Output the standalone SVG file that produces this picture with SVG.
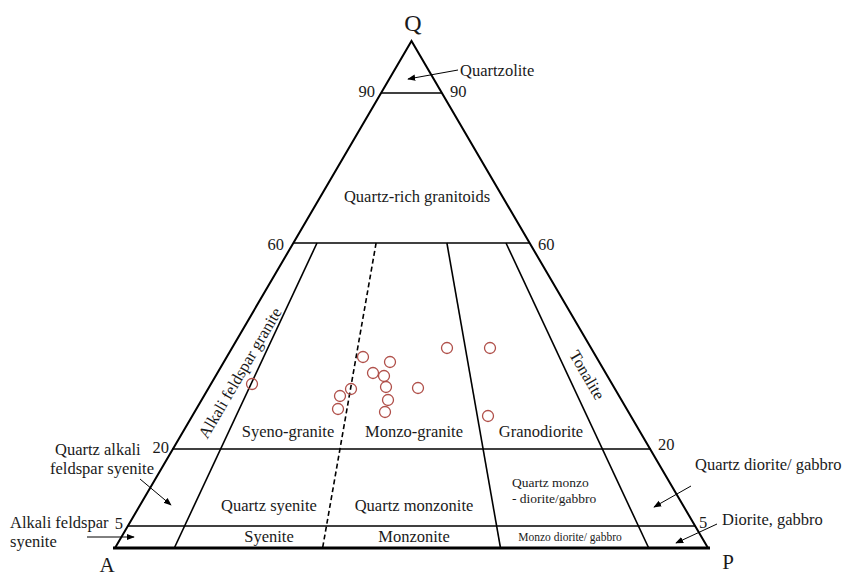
<svg xmlns="http://www.w3.org/2000/svg" width="845" height="579" viewBox="0 0 845 579">
<style>
  text { font-family: "Liberation Serif", "Times New Roman", serif; fill: #1a1a1a; }
  .t { font-size: 16.5px; }
  .c { text-anchor: middle; }
  .e { text-anchor: end; }
  .edge { stroke: #000; stroke-width: 2; fill: none; stroke-linejoin: miter; }
  .div { stroke: #000; stroke-width: 1.6; fill: none; }
  .dash { stroke: #000; stroke-width: 1.6; fill: none; stroke-dasharray: 5 3; }
  .arr { stroke: #000; stroke-width: 1; fill: none; marker-end: url(#ah); }
  .pt { fill: none; stroke: #b0504a; stroke-width: 1.3; }
</style>
<defs>
  <marker id="ah" viewBox="0 0 10 10" refX="9" refY="5" markerWidth="8" markerHeight="8" markerUnits="userSpaceOnUse" orient="auto">
    <path d="M0,1 L10,5 L0,9 z" fill="#000"/>
  </marker>
</defs>
<rect width="845" height="579" fill="#fff"/>

<g id="triangle">
  <path class="edge" d="M115,548 L411.5,41 L708,548"/>
  <line x1="113" y1="548" x2="710" y2="548" stroke="#000" stroke-width="3"/>
</g>

<g id="dividers">
  <line class="div" x1="381.1" y1="93" x2="441.9" y2="93"/>
  <line class="div" x1="293.4" y1="243" x2="529.6" y2="243"/>
  <line class="div" x1="172" y1="449" x2="651" y2="449"/>
  <line class="div" x1="127.9" y1="526" x2="695.1" y2="526"/>
  <line class="div" x1="317" y1="243" x2="174.3" y2="548"/>
  <line class="dash" x1="376.1" y1="243" x2="322.6" y2="548"/>
  <line class="div" x1="446.9" y1="243" x2="500.5" y2="548"/>
  <line class="div" x1="506" y1="243" x2="648.7" y2="548"/>
</g>

<g id="connectors">
  <line class="arr" x1="458" y1="70" x2="408" y2="79"/>
  <line class="arr" x1="140" y1="479" x2="171" y2="505"/>
  <line class="arr" x1="87" y1="537" x2="134" y2="537"/>
  <line class="arr" x1="691" y1="486" x2="654" y2="507"/>
  <line class="arr" x1="717" y1="524" x2="676" y2="543"/>
</g>

<g id="vertex-labels">
  <text x="413" y="31" class="c" font-size="24">Q</text>
  <text x="107" y="572" class="c" font-size="21">A</text>
  <text x="728" y="569" class="c" font-size="21">P</text>
</g>

<g id="scale-labels" class="t">
  <text x="375" y="97" class="e">90</text>
  <text x="450" y="97">90</text>
  <text x="284" y="250" class="e">60</text>
  <text x="538" y="250">60</text>
  <text x="169" y="453" class="e">20</text>
  <text x="658" y="450">20</text>
  <text x="123" y="529" class="e">5</text>
  <text x="699" y="528">5</text>
</g>

<g id="field-labels" class="t">
  <text x="460" y="76">Quartzolite</text>
  <text x="417" y="202" class="c">Quartz-rich granitoids</text>
  <text transform="translate(240,373) rotate(-59.7)" x="0" y="5.5" class="c">Alkali feldspar granite</text>
  <text transform="translate(587,375) rotate(59.7)" x="0" y="5.5" class="c">Tonalite</text>
  <text x="288" y="437" class="c">Syeno-granite</text>
  <text x="414" y="437" class="c">Monzo-granite</text>
  <text x="541" y="437" class="c">Granodiorite</text>
  <text x="269" y="511" class="c">Quartz syenite</text>
  <text x="414" y="511" class="c">Quartz monzonite</text>
  <text x="512" y="487" font-size="13.5">Quartz monzo</text>
  <text x="512" y="503" font-size="13.5">- diorite/gabbro</text>
  <text x="269" y="542" class="c">Syenite</text>
  <text x="414" y="542" class="c">Monzonite</text>
  <text x="570" y="541" class="c" font-size="11.5">Monzo diorite/ gabbro</text>
  <text x="55" y="455">Quartz alkali</text>
  <text x="50" y="474">feldspar syenite</text>
  <text x="10" y="528">Alkali feldspar</text>
  <text x="10" y="547">syenite</text>
  <text x="695" y="470">Quartz diorite/ gabbro</text>
  <text x="722" y="525">Diorite, gabbro</text>
</g>

<g id="samples">
  <circle class="pt" cx="252" cy="384" r="5.5"/>
  <circle class="pt" cx="363" cy="357" r="5.5"/>
  <circle class="pt" cx="390" cy="362" r="5.5"/>
  <circle class="pt" cx="373" cy="373" r="5.5"/>
  <circle class="pt" cx="384" cy="376" r="5.5"/>
  <circle class="pt" cx="351" cy="389" r="5.5"/>
  <circle class="pt" cx="340" cy="396" r="5.5"/>
  <circle class="pt" cx="386" cy="387" r="5.5"/>
  <circle class="pt" cx="418" cy="388" r="5.5"/>
  <circle class="pt" cx="388" cy="400" r="5.5"/>
  <circle class="pt" cx="338" cy="409" r="5.5"/>
  <circle class="pt" cx="385" cy="412" r="5.5"/>
  <circle class="pt" cx="447" cy="348" r="5.5"/>
  <circle class="pt" cx="490" cy="348" r="5.5"/>
  <circle class="pt" cx="488" cy="416" r="5.5"/>
</g>
</svg>
